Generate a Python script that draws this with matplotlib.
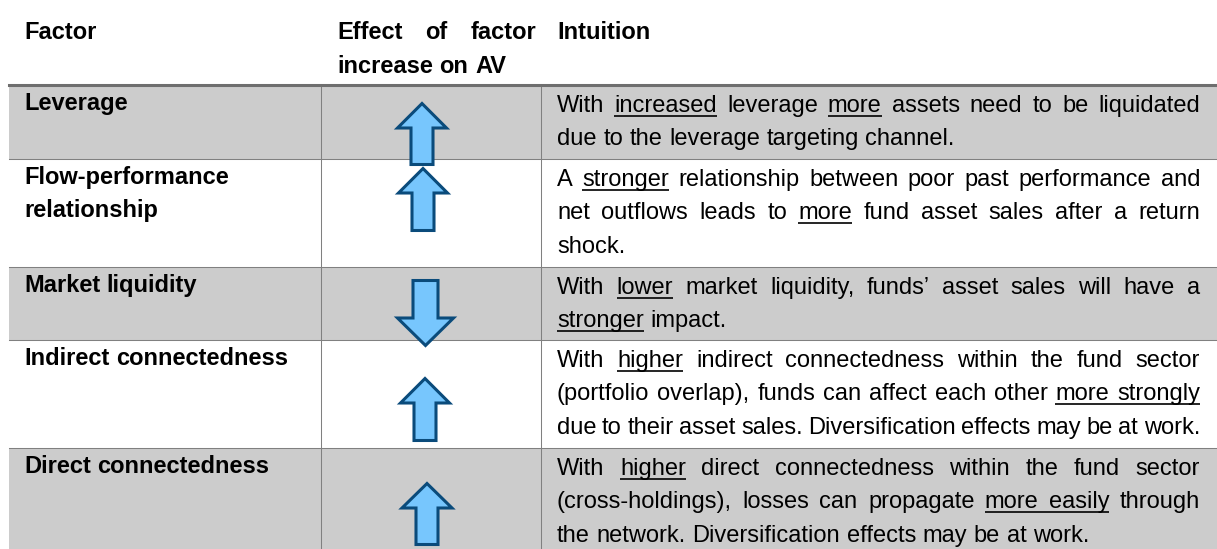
import matplotlib.pyplot as plt
from matplotlib.patches import Polygon, Rectangle

plt.rcParams['font.family'] = ['Liberation Sans', 'DejaVu Sans']

FONT_SIZE = 17

## table content
header_factor = "Factor"
header_effect = ["Effect of factor", "increase on AV"]
header_intuition = "Intuition"

factors = [["Leverage"],
           ["Flow-performance", "relationship"],
           ["Market liquidity"],
           ["Indirect connectedness"],
           ["Direct connectedness"]]

effects = ["up", "up", "down", "up", "up"]

# words between underscores are underlined
intuition = [
    ["With _increased_ leverage _more_ assets need to be liquidated",
     "due to the leverage targeting channel."],
    ["A _stronger_ relationship between poor past performance and",
     "net outflows leads to _more_ fund asset sales after a return",
     "shock."],
    ["With _lower_ market liquidity, funds\u2019 asset sales will have a",
     "_stronger_ impact."],
    ["With _higher_ indirect connectedness within the fund sector",
     "(portfolio overlap), funds can affect each other _more_ _strongly_",
     "due to their asset sales. Diversification effects may be at work."],
    ["With _higher_ direct connectedness within the fund sector",
     "(cross-holdings), losses can propagate _more_ _easily_ through",
     "the network. Diversification effects may be at work."],
]

shaded = [True, False, True, False, True]

## layout in pixels
W, H = 1217, 549
row_edges = [85, 159, 267, 340, 448, 549]
col_lines = [320.5, 541]
table_left = 9
text_x = [24, 337, 557]
text_right = 1200
effect_right = 536
first_line = 27      # baseline offset of the first line below the row top
line_step = 33.3
header_base = [39, 73]
arrow_cx = [422, 423, 425.5, 425, 427]
arrow_top = [102, 167, 279, 377, 482]
# length, head length, head width, shaft width (outer size)
arrow_size = [(64, 26, 52, 25), (65, 26, 52, 25), (68, 29, 59, 28),
              (65, 26, 52, 25), (64, 26, 53, 25)]

ARROW_FILL = '#77c6fd'
ARROW_EDGE = '#0a4b7b'
GREY = '#cccccc'
LINE = '#808080'


def word_width(ax, renderer, word, weight):
    t = ax.text(0, 0, word, fontsize=FONT_SIZE, weight=weight)
    w = t.get_window_extent(renderer).width
    t.remove()
    return w


def draw_line(ax, renderer, line, x0, y, weight='normal', width=None, last=True):
    words = line.split(' ')
    flags = [w.startswith('_') and w.endswith('_') and len(w) > 2 for w in words]
    words = [w[1:-1] if f else w for w, f in zip(words, flags)]
    widths = [word_width(ax, renderer, w, weight) for w in words]
    space = word_width(ax, renderer, 'x x', weight) - word_width(ax, renderer, 'xx', weight)
    gap = space
    if width is not None and len(words) > 1:
        just = (width - sum(widths)) / (len(words) - 1)
        gap = min(space, just) if last else just
    x = x0
    for i, (w, wd, f) in enumerate(zip(words, widths, flags)):
        ax.text(x, y, w, fontsize=FONT_SIZE, weight=weight, va='baseline', ha='left', color='black')
        if f:
            x_end = x + wd
            if i + 1 < len(words) and flags[i + 1]:
                x_end += gap
            ax.plot([x, x_end], [y + 3.5, y + 3.5], color='black', lw=1.2, solid_capstyle='butt')
        x += wd + gap


def arrow_points(cx, top, size, direction):
    L, hl, hw, sw = size
    s = 1.5  # half of the outline width
    pts = [(cx, top + s),
           (cx + hw / 2 - s, top + hl),
           (cx + sw / 2 - s, top + hl),
           (cx + sw / 2 - s, top + L - s),
           (cx - sw / 2 + s, top + L - s),
           (cx - sw / 2 + s, top + hl),
           (cx - hw / 2 + s, top + hl)]
    if direction == 'down':
        pts = [(px, 2 * top + L - py) for px, py in pts]
    return pts


def main():
    fig = plt.figure(figsize=(W / 100, H / 100), dpi=100)
    ax = fig.add_axes([0, 0, 1, 1])
    ax.set_xlim(0, W)
    ax.set_ylim(H, 0)
    ax.axis('off')
    renderer = fig.canvas.get_renderer()

    # shaded rows
    for i, sh in enumerate(shaded):
        if sh:
            ax.add_patch(Rectangle((table_left, row_edges[i]), W - table_left,
                                   row_edges[i + 1] - row_edges[i], color=GREY, lw=0, zorder=0))

    # grid lines
    for y in row_edges[1:-1]:
        ax.plot([table_left, W], [y, y], color=LINE, lw=0.75, zorder=1)
    for x in col_lines:
        ax.plot([x, x], [row_edges[0], H], color=LINE, lw=0.75, zorder=1)
    ax.plot([table_left, W], [row_edges[0], row_edges[0]], color='#6e6e6e', lw=2.2, zorder=2)

    # header
    draw_line(ax, renderer, header_factor, text_x[0], header_base[0], weight='bold')
    draw_line(ax, renderer, header_effect[0], text_x[1], header_base[0], weight='bold',
              width=effect_right - text_x[1], last=False)
    draw_line(ax, renderer, header_effect[1], text_x[1], header_base[1], weight='bold')
    draw_line(ax, renderer, header_intuition, text_x[2], header_base[0], weight='bold')

    # body
    for i in range(len(factors)):
        top = row_edges[i]
        for j, name in enumerate(factors[i]):
            draw_line(ax, renderer, name, text_x[0], top + first_line - 2 + j * line_step, weight='bold')
        lines = intuition[i]
        for j, line in enumerate(lines):
            draw_line(ax, renderer, line, text_x[2], top + first_line + j * line_step,
                      width=text_right - text_x[2], last=(j == len(lines) - 1))
        ax.add_patch(Polygon(arrow_points(arrow_cx[i], arrow_top[i], arrow_size[i], effects[i]),
                             closed=True, facecolor=ARROW_FILL, edgecolor=ARROW_EDGE,
                             lw=2.2, joinstyle='miter', zorder=5))

    fig.savefig('out.png', dpi=100)


if __name__ == '__main__':
    main()
